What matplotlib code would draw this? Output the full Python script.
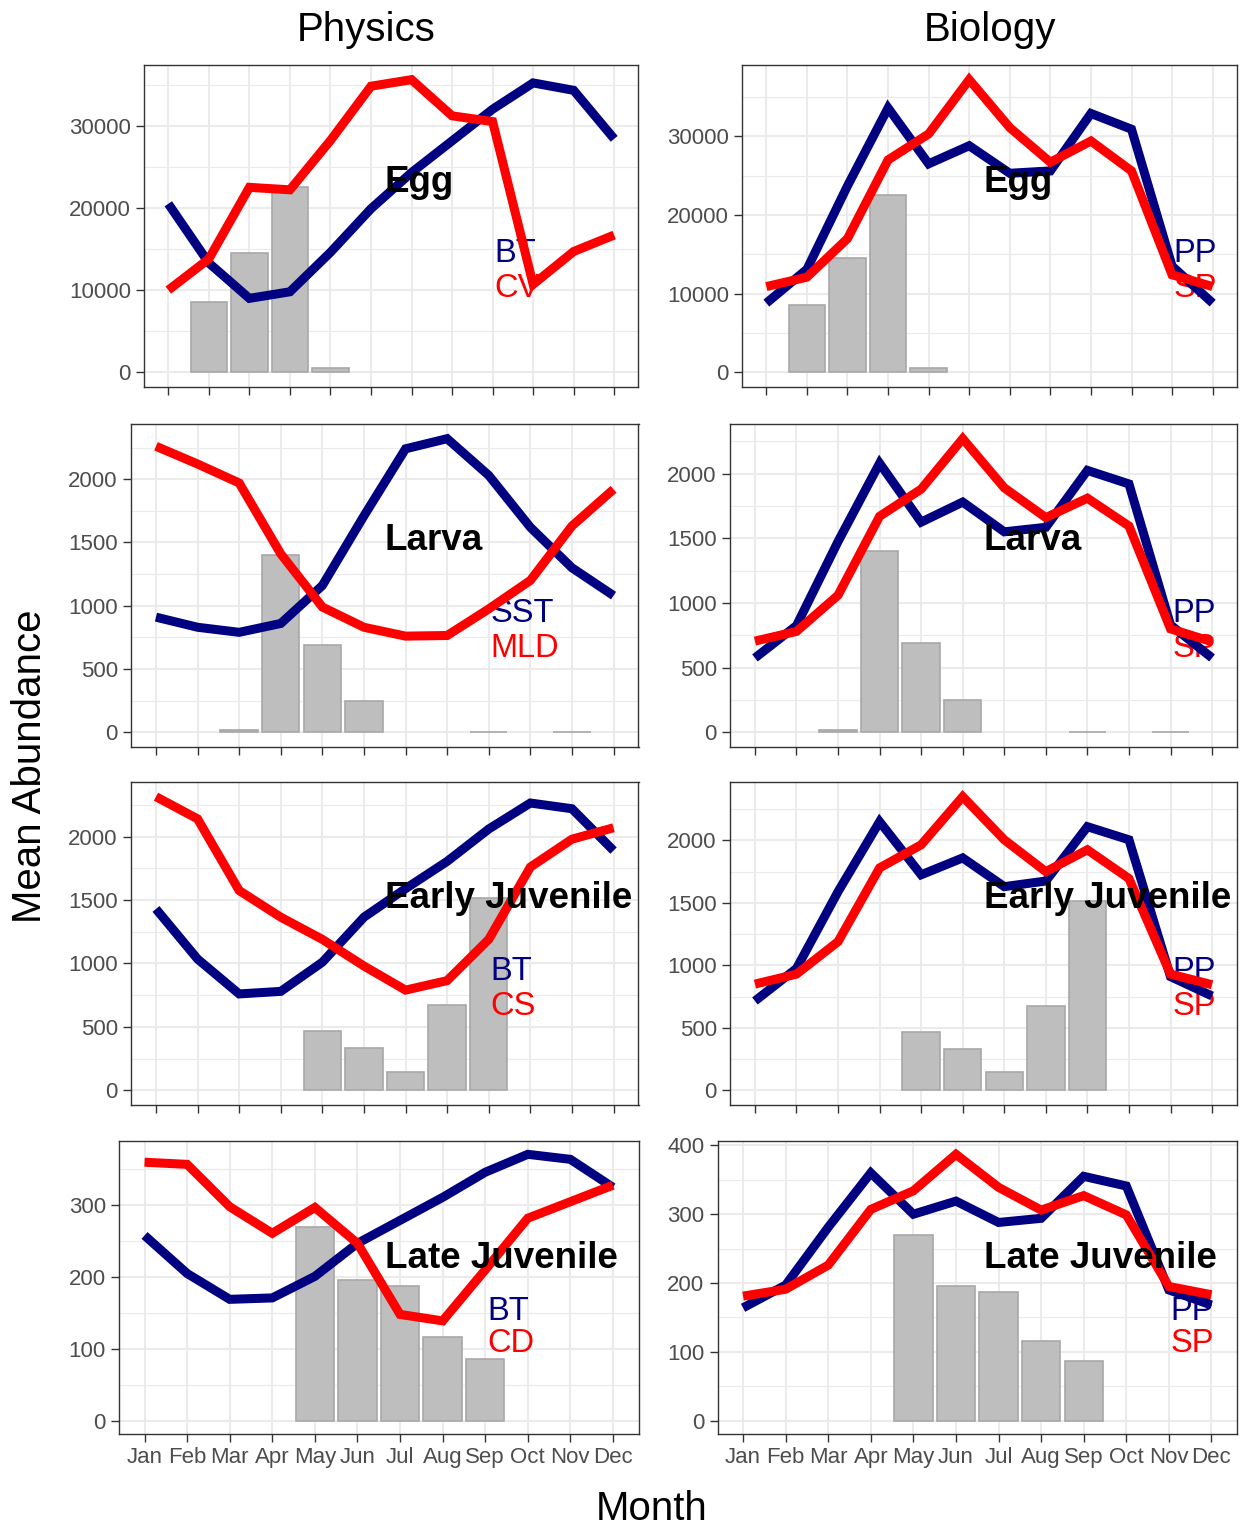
import numpy as np
import matplotlib
matplotlib.use('Agg')
import matplotlib.pyplot as plt
from matplotlib.ticker import MultipleLocator, FixedLocator, StrMethodFormatter

plt.rcParams['font.family'] = ['Liberation Sans', 'DejaVu Sans']

months = ['Jan', 'Feb', 'Mar', 'Apr', 'May', 'Jun',
          'Jul', 'Aug', 'Sep', 'Oct', 'Nov', 'Dec']
stages = ['Egg', 'Larva', 'Early Juvenile', 'Late Juvenile']

# mean abundance per month (bars)
egg_abund = [0, 8500, 14500, 22500, 500, 0, 0, 0, 0, 0, 0, 0]
larva_abund = [0, 0, 15, 1400, 690, 250, 0, 0, 5, 0, 5, 0]
ejuv_abund = [0, 0, 0, 0, 465, 330, 145, 674, 1516, 0, 0, 0]
ljuv_abund = [0, 0, 0, 0, 270, 196, 187, 116, 86, 0, 0, 0]

# physics drivers, rescaled onto the abundance axis
egg_bt = [20500, 13300, 9000, 9800, 14600, 19900, 24300, 28150, 32000, 35200, 34300, 28400]
egg_cv = [10000, 13800, 22500, 22200, 28200, 34800, 35600, 31200, 30500, 10700, 14700, 16700]
larva_sst = [910, 830, 790, 860, 1160, 1710, 2240, 2320, 2030, 1620, 1300, 1080]
larva_mld = [2260, 2120, 1970, 1410, 990, 830, 760, 765, 975, 1200, 1630, 1920]
ejuv_bt = [1430, 1035, 760, 780, 1010, 1365, 1590, 1805, 2060, 2265, 2220, 1890]
ejuv_cs = [2315, 2140, 1575, 1365, 1190, 980, 790, 865, 1190, 1760, 1980, 2070]
ljuv_bt = [258, 205, 169, 171, 201, 247, 279, 311, 346, 371, 364, 325]
ljuv_cd = [360, 357, 298, 261, 297, 247, 148, 139, 210, 282, 305, 328]

# biology drivers
egg_pp = [8800, 13100, 23700, 33600, 26500, 28800, 25300, 25600, 32900, 30900, 13500, 8800]
egg_sp = [10900, 12100, 17000, 27000, 30300, 37200, 31100, 26700, 29400, 25600, 12400, 10900]
larva_pp = [575, 825, 1475, 2080, 1625, 1780, 1550, 1585, 2025, 1920, 830, 575]
larva_sp = [705, 780, 1060, 1670, 1880, 2270, 1890, 1660, 1810, 1595, 800, 700]
ejuv_pp = [715, 975, 1590, 2150, 1725, 1860, 1630, 1675, 2110, 2005, 910, 755]
ejuv_sp = [850, 930, 1190, 1780, 1965, 2350, 2005, 1750, 1925, 1695, 930, 845]
ljuv_pp = [164, 197, 281, 360, 300, 319, 288, 294, 355, 341, 190, 168]
ljuv_sp = [181, 191, 226, 307, 334, 387, 339, 306, 327, 299, 195, 183]

abund = [egg_abund, larva_abund, ejuv_abund, ljuv_abund]
phys = [(egg_bt, egg_cv), (larva_sst, larva_mld), (ejuv_bt, ejuv_cs), (ljuv_bt, ljuv_cd)]
phys_names = [('BT', 'CV'), ('SST', 'MLD'), ('BT', 'CS'), ('BT', 'CD')]
bio = [(egg_pp, egg_sp), (larva_pp, larva_sp), (ejuv_pp, ejuv_sp), (ljuv_pp, ljuv_sp)]
bio_names = [('PP', 'SP')] * 4
ysteps = [(10000, 10000), (500, 500), (500, 500), (100, 100)]

W, H = 1244, 1529
fig = plt.figure(figsize=(W / 100, H / 100), dpi=100)

rows_y = [(65, 387), (424, 747), (782, 1105), (1141, 1434)]
left_x = [(144, 638.5), (131, 638.5), (131, 638.5), (119, 638.5)]
right_x = [(742, 1237), (730, 1237), (730, 1237), (717.5, 1237)]

BLUE = '#000080'
RED = '#FF0000'


def panel(box, bars, lines, names, stage, step, lab_x, bottom):
    (x0, x1), (y0, y1) = box
    ax = fig.add_axes([x0 / W, 1 - y1 / H, (x1 - x0) / W, (y1 - y0) / H])
    x = np.arange(1, 13)
    b = np.array(bars, dtype=float)
    m = b > 0
    ax.set_axisbelow(True)
    ax.bar(x[m], b[m], width=0.9, color='#BEBEBE', edgecolor='#A8A8A8',
           linewidth=1.2, zorder=2)
    ax.text(lab_x, 0.388, names[0], color=BLUE, fontsize=23.5,
            transform=ax.transAxes, va='baseline', ha='left', zorder=3)
    ax.text(lab_x, 0.28, names[1], color=RED, fontsize=23.5,
            transform=ax.transAxes, va='baseline', ha='left', zorder=3)
    ax.plot(x, lines[0], color=BLUE, lw=6.5, zorder=4,
            solid_joinstyle='miter', solid_capstyle='butt')
    ax.plot(x, lines[1], color=RED, lw=6.5, zorder=5,
            solid_joinstyle='miter', solid_capstyle='butt')
    ax.text(1 - 253.5 / (x1 - x0), 1 - 126.5 / (y1 - y0), stage,
            fontsize=26.5, fontweight='bold', transform=ax.transAxes,
            va='baseline', ha='left', zorder=6)

    allv = list(bars) + list(lines[0]) + list(lines[1])
    lo, hi = min(0, min(allv)), max(allv)
    pad = 0.05 * (hi - lo)
    ax.set_ylim(lo - pad, hi + pad)
    ax.set_xlim(0.4, 12.6)

    ax.xaxis.set_major_locator(FixedLocator(x))
    ax.yaxis.set_major_locator(MultipleLocator(step))
    ax.yaxis.set_minor_locator(MultipleLocator(step / 2))
    ax.yaxis.set_major_formatter(StrMethodFormatter('{x:.0f}'))
    if bottom:
        ax.set_xticklabels(months)
    else:
        ax.set_xticklabels([])
    ax.grid(which='major', color='#EBEBEB', lw=1.5)
    ax.grid(which='minor', axis='y', color='#EBEBEB', lw=0.8)
    ax.tick_params(which='major', length=5.5, width=1, color='#333333',
                   labelsize=16, labelcolor='#4D4D4D', pad=4)
    ax.tick_params(which='minor', length=0)
    for s in ax.spines.values():
        s.set_color('#333333')
        s.set_linewidth(1)
    return ax


for i in range(4):
    panel((left_x[i], rows_y[i]), abund[i], phys[i], phys_names[i],
          stages[i], ysteps[i][0], 0.709, i == 3)
    panel((right_x[i], rows_y[i]), abund[i], bio[i], bio_names[i],
          stages[i], ysteps[i][1], 0.872, i == 3)

fig.text(366.5 / W, 1 - 41 / H, 'Physics', ha='center', va='baseline', fontsize=29)
fig.text(990 / W, 1 - 41 / H, 'Biology', ha='center', va='baseline', fontsize=29)
fig.text(652 / W, 1 - 1520 / H, 'Month', ha='center', va='baseline', fontsize=29)
fig.text(30 / W, 1 - 766 / H, 'Mean Abundance', rotation=90,
         ha='center', va='center', fontsize=29)

fig.savefig('out.png', dpi=100)
